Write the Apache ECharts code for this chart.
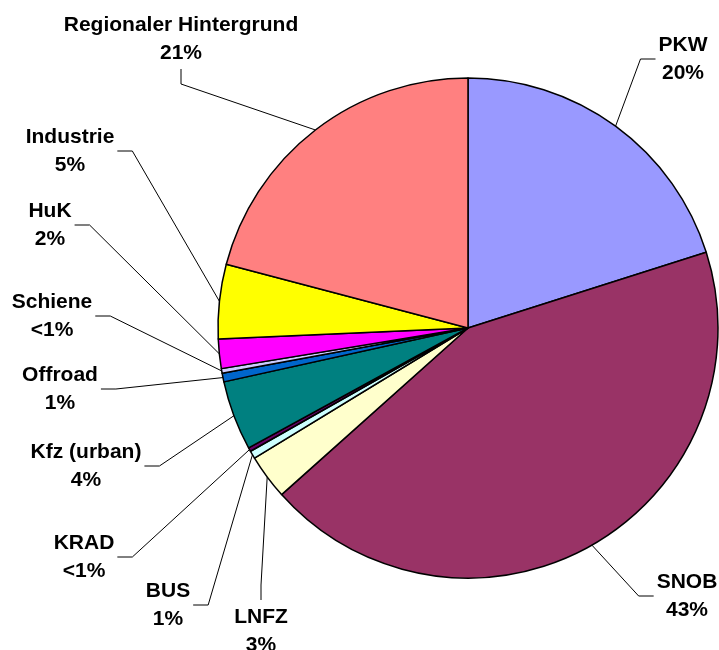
<!DOCTYPE html>
<html>
<head>
<meta charset="utf-8">
<script src="https://cdn.jsdelivr.net/npm/echarts@6/dist/echarts.min.js"></script>
<style>
  html, body { margin: 0; padding: 0; background: #fff; }
  #pie { width: 719px; height: 650px; }
</style>
</head>
<body>
<div id="pie"></div>
<script>
// slices clockwise from 12 o'clock
const categories = ['PKW', 'SNOB', 'LNFZ', 'BUS', 'KRAD', 'Kfz (urban)', 'Offroad', 'Schiene', 'HuK', 'Industrie', 'Regionaler Hintergrund'];
const shares = [20.1, 43.3, 2.9, 0.5, 0.25, 4.5, 0.56, 0.3, 1.9, 4.8, 20.9];
const shareLabels = ['20%', '43%', '3%', '1%', '<1%', '4%', '1%', '<1%', '2%', '5%', '21%'];

const colors = ['#9999ff', '#993366', '#ffffcc', '#ccffff', '#660066', '#008080', '#0066cc', '#ccccff', '#ff00ff', '#ffff00', '#ff8080'];

// label block centres as placed in the original, plus the side the leader leaves from
const labelSpots = [
  [683, 59, 'left'],
  [687, 596, 'left'],
  [261, 631, 'top'],
  [168, 605, 'right'],
  [84, 557, 'right'],
  [86, 466, 'right'],
  [60, 389, 'right'],
  [52, 316, 'right'],
  [50, 225, 'right'],
  [70, 151, 'right'],
  [181, 39, 'bottom']
];

const chart = echarts.init(document.getElementById('pie'));

const option = {
  animation: false,
  series: [
    {
      type: 'pie',
      center: [468, 328],
      radius: 250,
      startAngle: 90,
      clockwise: true,
      avoidLabelOverlap: false,
      emphasis: { disabled: true },
      itemStyle: {
        borderColor: '#000',
        borderWidth: 1.5
      },
      label: {
        show: true,
        position: 'outside',
        color: '#000',
        fontFamily: 'Liberation Sans, Arial, sans-serif',
        fontWeight: 'bold',
        fontSize: 21,
        lineHeight: 28,
        align: 'center',
        formatter: function (p) {
          return p.name + '\n' + shareLabels[p.dataIndex];
        }
      },
      labelLine: {
        show: true,
        length: 10,
        length2: 10,
        lineStyle: { color: '#000', width: 1 }
      },
      labelLayout: function (params) {
        const spot = labelSpots[params.dataIndex];
        const w = params.labelRect.width;
        const h = params.labelRect.height;
        const x = spot[0], y = spot[1];
        let end, mid;
        if (spot[2] === 'right') {
          end = [x + w / 2 + 3, y];
          mid = [end[0] + 15, y];
        } else if (spot[2] === 'left') {
          end = [x - w / 2 - 3, y];
          mid = [end[0] - 15, y];
        } else if (spot[2] === 'bottom') {
          end = [x, y + h / 2 + 2];
          mid = [x, end[1] + 15];
        } else {
          end = [x, y - h / 2 - 3];
          mid = [x, end[1] - 15];
        }
        const start = params.labelLinePoints ? params.labelLinePoints[0] : mid;
        return {
          x: x,
          y: y,
          align: 'center',
          verticalAlign: 'middle',
          labelLinePoints: [start, mid, end]
        };
      },
      data: categories.map(function (name, i) {
        return { name: name, value: shares[i], itemStyle: { color: colors[i] } };
      })
    }
  ]
};

chart.setOption(option);
</script>
</body>
</html>
